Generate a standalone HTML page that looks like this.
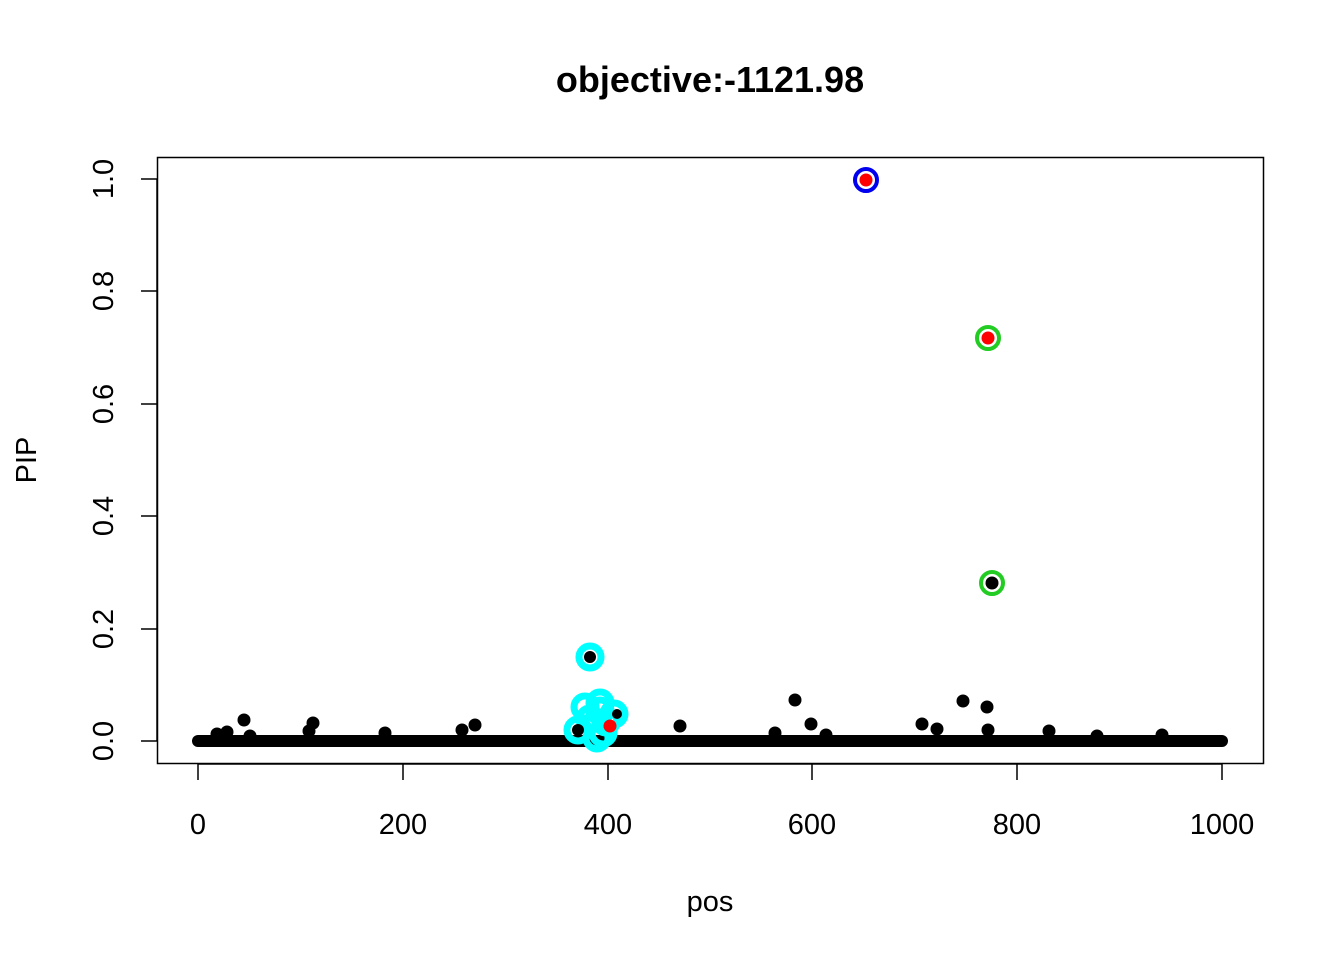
<!DOCTYPE html>
<html><head><style>body{margin:0;background:#fff}</style></head><body>
<svg width="1344" height="960" xmlns="http://www.w3.org/2000/svg" font-family="Liberation Sans, Arial, sans-serif">
<text x="710" y="92" font-size="36" font-weight="bold" text-anchor="middle">objective:-1121.98</text>
<rect x="157.5" y="157.5" width="1106" height="606" fill="none" stroke="#000" stroke-width="1.5"/>
<g stroke="#000" stroke-width="1.5">
<line x1="198" y1="764" x2="1222" y2="764"/>
<line x1="198" y1="764" x2="198" y2="780"/><line x1="403" y1="764" x2="403" y2="780"/><line x1="608" y1="764" x2="608" y2="780"/><line x1="812" y1="764" x2="812" y2="780"/><line x1="1017" y1="764" x2="1017" y2="780"/><line x1="1222" y1="764" x2="1222" y2="780"/>
<line x1="157" y1="179" x2="157" y2="741"/>
<line x1="141" y1="179" x2="157" y2="179"/><line x1="141" y1="291" x2="157" y2="291"/><line x1="141" y1="404" x2="157" y2="404"/><line x1="141" y1="516" x2="157" y2="516"/><line x1="141" y1="629" x2="157" y2="629"/><line x1="141" y1="741" x2="157" y2="741"/>
</g>
<g font-size="29" text-anchor="middle">
<text x="198" y="834">0</text><text x="403" y="834">200</text><text x="608" y="834">400</text><text x="812" y="834">600</text><text x="1017" y="834">800</text><text x="1222" y="834">1000</text>
<text x="710" y="911">pos</text>
<g transform="rotate(-90)">
<text x="-179" y="113">1.0</text><text x="-291" y="113">0.8</text><text x="-404" y="113">0.6</text><text x="-516" y="113">0.4</text><text x="-629" y="113">0.2</text><text x="-741" y="113">0.0</text>
<text x="-460" y="36">PIP</text>
</g>
</g>
<line x1="198" y1="741" x2="1222" y2="741" stroke="#000" stroke-width="12" stroke-linecap="round"/>
<g fill="#000">
<circle cx="244" cy="720" r="6.5"/><circle cx="313" cy="723" r="6.5"/><circle cx="227" cy="732" r="6.5"/><circle cx="217" cy="734" r="6.5"/><circle cx="385" cy="733" r="6.5"/><circle cx="309" cy="731" r="6.5"/><circle cx="250" cy="736" r="6.5"/>
<circle cx="795" cy="700" r="6.5"/><circle cx="811" cy="724" r="6.5"/><circle cx="963" cy="701" r="6.5"/><circle cx="987" cy="707" r="6.5"/><circle cx="922" cy="724" r="6.5"/><circle cx="937" cy="729" r="6.5"/><circle cx="1049" cy="731" r="6.5"/><circle cx="775" cy="733" r="6.5"/><circle cx="988" cy="730" r="6.5"/><circle cx="826" cy="735" r="6.5"/>
<circle cx="680" cy="726" r="6.5"/><circle cx="475" cy="725" r="6.5"/><circle cx="462" cy="730" r="6.5"/><circle cx="1162" cy="735" r="6.5"/><circle cx="1097" cy="736" r="6.5"/>
</g>
<g fill="none" stroke="#00ffff" stroke-width="7">
<circle cx="590" cy="657" r="11"/><circle cx="585" cy="707" r="11"/><circle cx="600" cy="703" r="11"/><circle cx="614" cy="714" r="11"/><circle cx="578" cy="730" r="11"/><circle cx="590" cy="719" r="11"/><circle cx="603" cy="733" r="11"/><circle cx="600" cy="711" r="11"/><circle cx="597" cy="738" r="11"/><circle cx="606" cy="722" r="11"/>
</g>
<g fill="#000"><circle cx="590" cy="657" r="6"/><circle cx="578" cy="730" r="6"/><circle cx="617" cy="714" r="5"/></g>
<circle cx="610" cy="726" r="6.5" fill="#f00"/>
<circle cx="866" cy="180" r="11" fill="none" stroke="#0000ee" stroke-width="4"/><circle cx="866" cy="180" r="6.5" fill="#f00"/>
<circle cx="988" cy="338" r="11" fill="none" stroke="#22cc22" stroke-width="4"/><circle cx="988" cy="338" r="6.5" fill="#f00"/>
<circle cx="992" cy="583" r="11" fill="none" stroke="#22cc22" stroke-width="4"/><circle cx="992" cy="583" r="6.5" fill="#000"/>
</svg>
</body></html>
